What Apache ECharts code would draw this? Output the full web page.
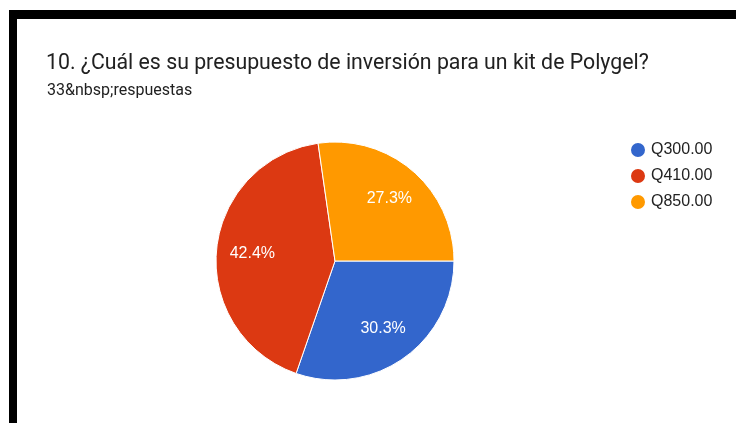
<!DOCTYPE html>
<html>
<head>
<meta charset="utf-8">
<script src="https://cdn.jsdelivr.net/npm/echarts@6/dist/echarts.min.js"></script>
<style>
  html, body { margin: 0; padding: 0; background: #fff; }
  #chart { width: 736px; height: 423px; }
</style>
</head>
<body>
<div id="chart"></div>
<script>
// data (33 responses)
const titleText = '10. ¿Cuál es su presupuesto de inversión para un kit de Polygel?'
const subText = '33&nbsp;respuestas'
const categories = ['Q300.00', 'Q410.00', 'Q850.00']
const counts = [10, 14, 9]
const colors = ['#3366cc', '#dc3912', '#ff9900']

const pieData = categories.map((name, i) => ({ name: name, value: counts[i] }))
const total = counts.reduce((a, b) => a + b, 0)

const chart = echarts.init(document.getElementById('chart'))
chart.setOption({
  animation: false,
  color: colors,
  title: [
    {
      text: titleText,
      left: 46,
      top: 53,
      padding: 0,
      textStyle: { fontFamily: 'Roboto', fontSize: 21.3, fontWeight: 'normal', color: '#212121' }
    },
    {
      text: subText,
      left: 47,
      top: 83,
      padding: 0,
      textStyle: { fontFamily: 'Roboto', fontSize: 16, fontWeight: 'normal', color: '#212121' }
    }
  ],
  legend: {
    orient: 'vertical',
    left: 629,
    top: 141,
    padding: 0,
    icon: 'circle',
    itemWidth: 16,
    itemHeight: 16,
    itemGap: 8,
    data: categories,
    textStyle: { fontFamily: 'Liberation Sans, Arial', fontSize: 16, color: '#222' }
  },
  graphic: [
    // black frame of the screenshot
    { type: 'rect', shape: { x: 9, y: 10, width: 727, height: 9 }, style: { fill: '#000' } },
    { type: 'rect', shape: { x: 9, y: 10, width: 8, height: 413 }, style: { fill: '#000' } }
  ],
  series: [
    {
      type: 'pie',
      center: [335, 261],
      radius: [0, 119],
      startAngle: 0,
      clockwise: true,
      silent: true,
      label: { show: false },
      labelLine: { show: false },
      itemStyle: { borderColor: '#fff', borderWidth: 1 },
      data: pieData
    },
    {
      // transparent ring only to place the percentage labels
      type: 'pie',
      center: [335, 261],
      radius: [41, 119],
      startAngle: 0,
      clockwise: true,
      silent: true,
      itemStyle: { color: 'rgba(0,0,0,0)' },
      label: {
        show: true,
        position: 'inside',
        color: '#fff',
        fontFamily: 'Liberation Sans, Arial',
        fontSize: 16,
        formatter: p => (p.value / total * 100).toFixed(1) + '%'
      },
      labelLine: { show: false },
      data: pieData
    }
  ]
})
</script>
</body>
</html>
